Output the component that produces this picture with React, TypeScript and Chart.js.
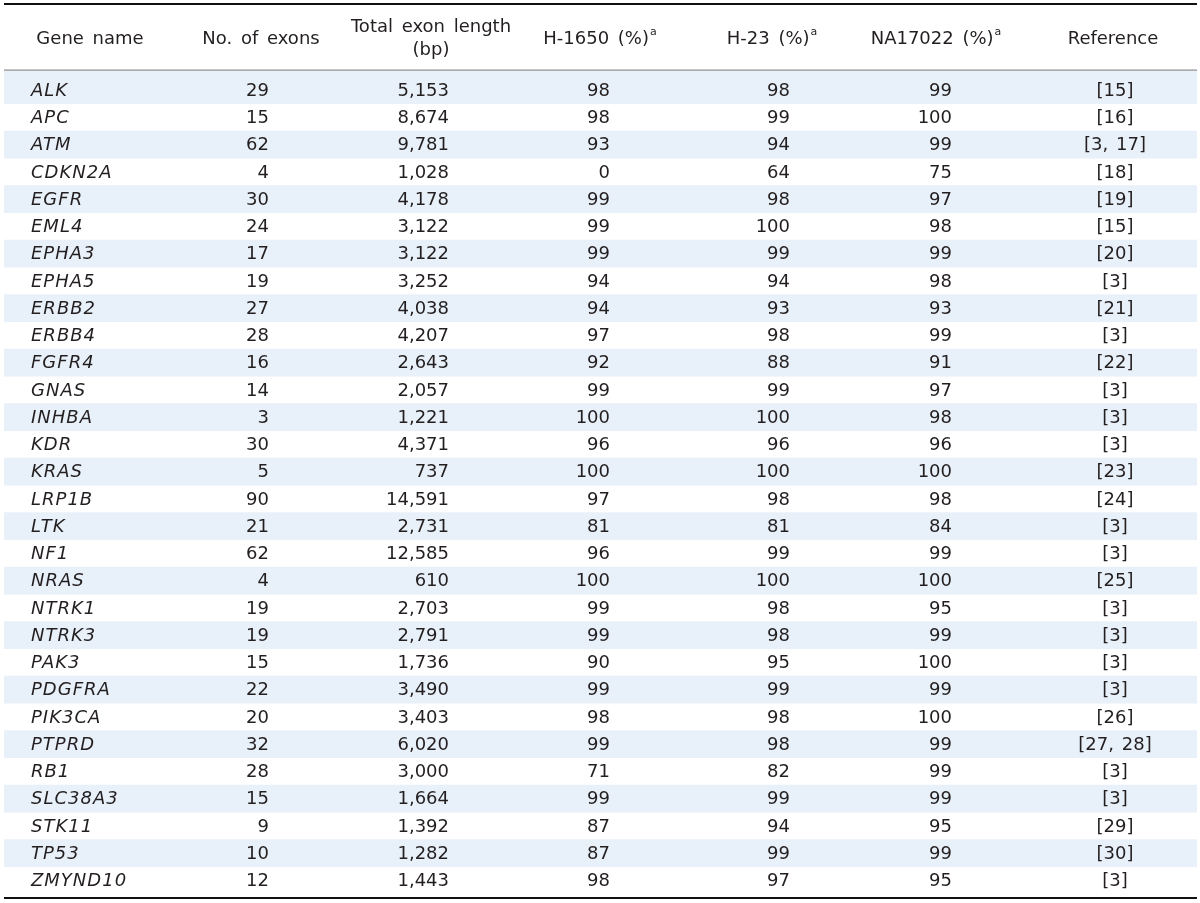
import React, { useEffect, useRef } from "react";
import { Chart, registerables } from "chart.js";

Chart.register(...registerables);

const genes = ["ALK","APC","ATM","CDKN2A","EGFR","EML4","EPHA3","EPHA5","ERBB2","ERBB4","FGFR4","GNAS","INHBA","KDR","KRAS","LRP1B","LTK","NF1","NRAS","NTRK1","NTRK3","PAK3","PDGFRA","PIK3CA","PTPRD","RB1","SLC38A3","STK11","TP53","ZMYND10"];
const exonCounts = [29,15,62,4,30,24,17,19,27,28,16,14,3,30,5,90,21,62,4,19,19,15,22,20,32,28,15,9,10,12];
const exonLengths = [5153,8674,9781,1028,4178,3122,3122,3252,4038,4207,2643,2057,1221,4371,737,14591,2731,12585,610,2703,2791,1736,3490,3403,6020,3000,1664,1392,1282,1443];
const h1650 = [98,98,93,0,99,99,99,94,94,97,92,99,100,96,100,97,81,96,100,99,99,90,99,98,99,71,99,87,87,98];
const h23 = [98,99,94,64,98,100,99,94,93,98,88,99,100,96,100,98,81,99,100,98,98,95,99,98,98,82,99,94,99,97];
const na17022 = [99,100,99,75,97,98,99,98,93,99,91,97,98,96,100,98,84,99,100,95,99,100,99,100,99,99,99,95,99,95];
const references = ["[15]","[16]","[3, 17]","[18]","[19]","[15]","[20]","[3]","[21]","[3]","[22]","[3]","[3]","[3]","[23]","[24]","[3]","[3]","[25]","[3]","[3]","[3]","[3]","[26]","[27, 28]","[3]","[3]","[29]","[30]","[3]"];
const headers = ["Gene name","No. of exons","Total exon length","H-1650 (%)","H-23 (%)","NA17022 (%)","Reference"];

const FONT = "'DejaVu Sans', sans-serif";
const TEXT = "#231f20";
const BAND = "#e8f0f9";

const fmt = (n: number) => n.toLocaleString("en-US");

const tablePlugin = {
  id: "tableText",
  beforeDatasetsDraw(chart: any) {
    const ctx = chart.ctx as CanvasRenderingContext2D;
    const y = chart.scales.y;
    const area = chart.chartArea;
    const top0 = y.getPixelForValue(0) - (y.getPixelForValue(1) - y.getPixelForValue(0)) / 2;
    ctx.save();
    ctx.fillStyle = BAND;
    ctx.fillRect(area.left, 71, area.right - area.left, top0 - 71 + 0.5);
    ctx.restore();
  },
  afterDatasetsDraw(chart: any) {
    const ctx = chart.ctx as CanvasRenderingContext2D;
    const y = chart.scales.y;
    const area = chart.chartArea;
    ctx.save();
    ctx.fillStyle = "#111";
    ctx.fillRect(area.left, 3, area.right - area.left, 2);
    ctx.fillRect(area.left, 897, area.right - area.left, 2);
    ctx.fillStyle = "#8a8a8a";
    ctx.fillRect(area.left, 69.5, area.right - area.left, 1.2);

    ctx.fillStyle = TEXT;
    ctx.textBaseline = "middle";
    (ctx as any).wordSpacing = "3px";
    ctx.font = `18px ${FONT}`;
    const hy = 39;
    ctx.textAlign = "center";
    ctx.fillText(headers[0], 90, hy);
    ctx.fillText(headers[1], 261, hy);
    ctx.fillText(headers[2], 431, 27);
    ctx.fillText("(bp)", 431, 50);
    const sup = (txt: string, cx: number) => {
      ctx.font = `18px ${FONT}`;
      const w = ctx.measureText(txt).width;
      ctx.font = `11px ${FONT}`;
      const ws = ctx.measureText("a").width;
      const left = cx - (w + ws + 1) / 2;
      ctx.textAlign = "left";
      ctx.font = `18px ${FONT}`;
      ctx.fillText(txt, left, hy);
      ctx.font = `11px ${FONT}`;
      ctx.fillText("a", left + w + 1, hy - 7);
      ctx.textAlign = "center";
      ctx.font = `18px ${FONT}`;
    };
    sup(headers[3], 600);
    sup(headers[4], 772);
    sup(headers[5], 936);
    ctx.fillText(headers[6], 1113, hy);

    (ctx as any).wordSpacing = "2px";
    for (let i = 0; i < genes.length; i++) {
      const py = y.getPixelForValue(i) + 1;
      ctx.textAlign = "left";
      ctx.font = `italic 18px ${FONT}`;
      (ctx as any).letterSpacing = "1px";
      ctx.fillText(genes[i], 31, py);
      (ctx as any).letterSpacing = "0px";
      ctx.font = `18px ${FONT}`;
      ctx.textAlign = "right";
      ctx.fillText(String(exonCounts[i]), 269, py);
      ctx.fillText(fmt(exonLengths[i]), 449, py);
      ctx.fillText(String(h1650[i]), 610, py);
      ctx.fillText(String(h23[i]), 790, py);
      ctx.fillText(String(na17022[i]), 952, py);
      ctx.textAlign = "center";
      ctx.fillText(references[i], 1115, py);
    }
    ctx.restore();
  },
};

export default function App() {
  const ref = useRef<HTMLCanvasElement | null>(null);
  useEffect(() => {
    document.body.style.margin = "0";
    const canvas = ref.current!;
    const chart = new Chart(canvas, {
      type: "bar",
      data: {
        labels: genes,
        datasets: [
          {
            data: genes.map((_, i) => (i % 2 === 0 ? [0, 1] : null)) as any,
            backgroundColor: BAND,
            borderWidth: 0,
            categoryPercentage: 1,
            barPercentage: 1,
          },
        ],
      },
      options: {
        indexAxis: "y",
        responsive: false,
        animation: false,
        layout: { padding: { top: 76.5, bottom: 9, left: 4, right: 3 } },
        plugins: { legend: { display: false }, tooltip: { enabled: false } },
        scales: {
          x: { display: false, min: 0, max: 1 },
          y: { display: false, offset: true },
        },
      },
      plugins: [tablePlugin],
    });
    return () => chart.destroy();
  }, []);
  return (
    <div style={{ width: 1200, height: 903, background: "#fff" }}>
      <canvas ref={ref} width={1200} height={903} />
    </div>
  );
}
